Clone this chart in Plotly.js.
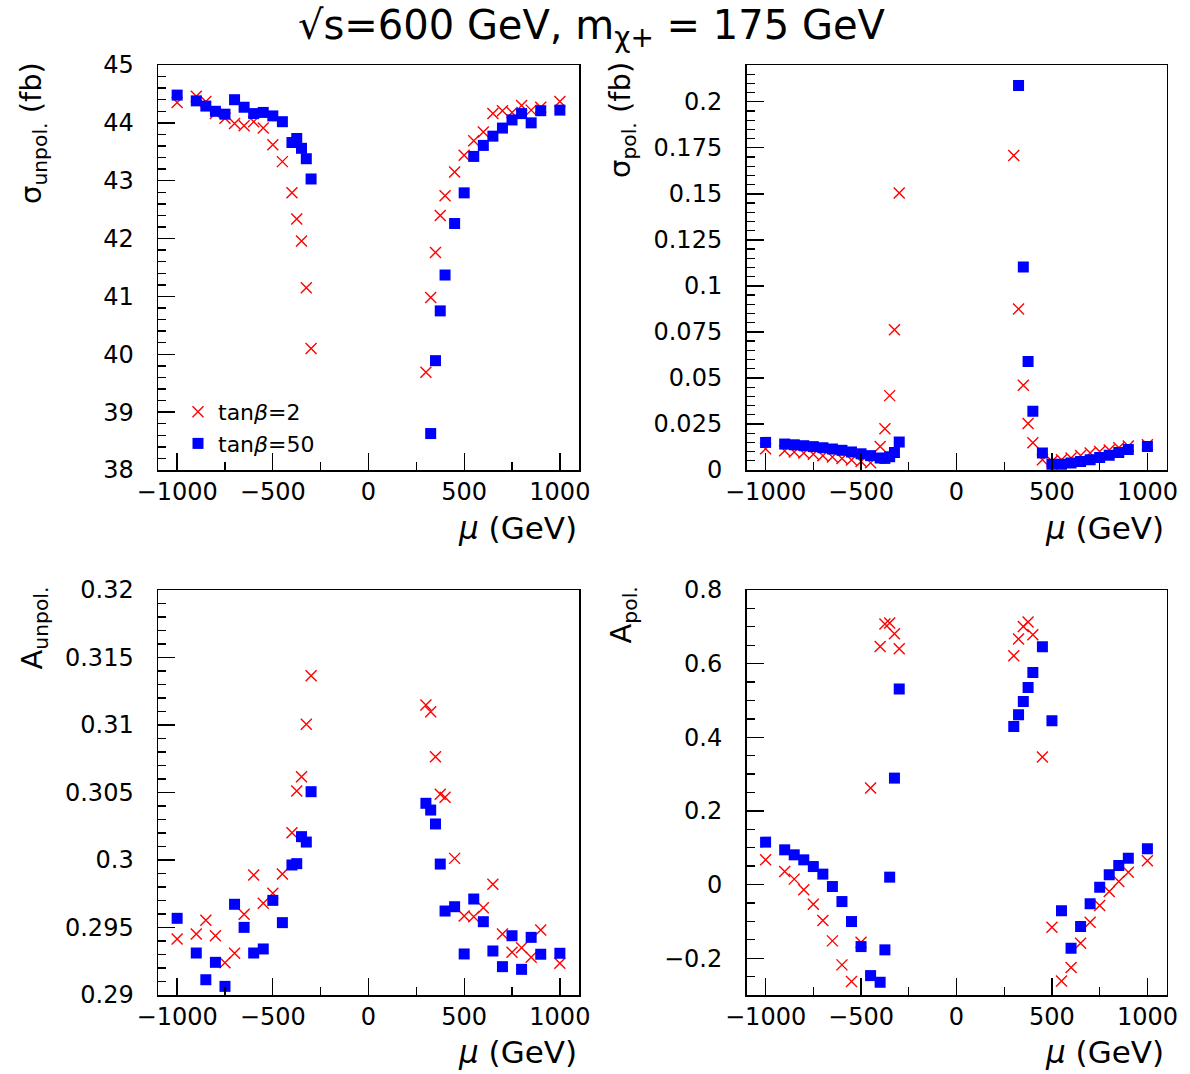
<!DOCTYPE html>
<html>
<head>
<meta charset="utf-8">
<script src="https://cdn.plot.ly/plotly-3.0.1.min.js"></script>
<style>html,body{margin:0;padding:0;background:#fff;}#chart{width:1190px;height:1074px;}</style>
</head>
<body>
<div id="chart"></div>
<script>
// ---- data ----
const muNeg = [-1000,-900,-850,-800,-750,-700,-650,-600,-550,-500,-450,-400,-375,-350,-325,-300];
const muPos = [300,325,350,375,400,450,500,550,600,650,700,750,800,850,900,1000];

// sigma unpolarised (fb)
const sigUnpolTb2Neg  = [44.35,44.46,44.37,44.16,44.08,43.99,43.95,44.02,43.91,43.62,43.33,42.79,42.34,41.96,41.15,40.10];
const sigUnpolTb2Pos  = [39.69,40.98,41.76,42.40,42.74,43.15,43.44,43.69,43.84,44.16,44.21,44.18,44.30,44.22,44.27,44.37];
const sigUnpolTb50Neg = [44.48,44.38,44.29,44.20,44.15,44.40,44.27,44.16,44.18,44.12,44.02,43.66,43.73,43.56,43.38,43.03];
const sigUnpolTb50Pos = [null,38.63,39.89,40.75,41.37,42.26,42.79,43.42,43.61,43.77,43.91,44.05,44.16,44.00,44.21,44.22];

// sigma polarised (fb)
const sigPolTb2Neg  = [0.0115,0.0105,0.0098,0.0092,0.0085,0.0078,0.0070,0.0062,0.0054,0.0046,0.0040,0.0128,0.0224,0.0404,0.0762,0.1505];
const sigPolTb2Pos  = [0.1708,0.0875,0.0460,0.0252,0.0148,0.0056,0.0047,0.0056,0.0065,0.0079,0.0092,0.0100,0.0109,0.0121,0.0130,0.0137];
const sigPolTb50Neg = [0.0150,0.0141,0.0137,0.0132,0.0127,0.0121,0.0114,0.0107,0.0098,0.0088,0.0078,0.0065,0.0063,0.0072,0.0095,0.0152];
const sigPolTb50Pos = [null,0.2089,0.1103,0.0590,0.0319,0.0092,0.0031,0.0031,0.0038,0.0046,0.0056,0.0068,0.0080,0.0095,0.0112,0.0128];

// A unpolarised
const aUnpolTb2Neg  = [0.29415,0.29452,0.29553,0.29439,0.29239,0.29309,0.29598,0.29889,0.29679,0.29753,0.29896,0.30202,0.30511,0.30617,0.31005,0.31365];
const aUnpolTb2Pos  = [0.31148,0.31099,0.30765,0.30487,0.30464,0.30012,0.29585,0.29580,0.29647,0.29820,0.29452,0.29316,0.29350,0.29279,0.29481,0.29235];
const aUnpolTb50Neg = [0.29568,0.29311,0.29113,0.29242,0.29064,0.29672,0.29501,0.29311,0.29341,0.29701,0.29536,0.29963,0.29973,0.30173,0.30133,0.30506];
const aUnpolTb50Pos = [0.30420,0.30370,0.30267,0.29970,0.29622,0.29654,0.29304,0.29711,0.29543,0.29326,0.29210,0.29439,0.29190,0.29427,0.29302,0.29309];

// A polarised
const aPolTb2Neg  = [0.0671,0.0353,0.0147,-0.0144,-0.0533,-0.0978,-0.1530,-0.2182,-0.2636,-0.1570,0.2620,0.6467,0.7076,0.7103,0.6812,0.6405];
const aPolTb2Pos  = [0.6215,0.6668,0.7011,0.7130,0.6785,0.3462,-0.1158,-0.2617,-0.2255,-0.1592,-0.1022,-0.0571,-0.0190,0.0082,0.0337,0.0644];
const aPolTb50Neg = [0.1152,0.0943,0.0807,0.0671,0.0489,0.0283,-0.0054,-0.0462,-0.1005,-0.1685,-0.2473,-0.2654,-0.1774,0.0201,0.2891,0.5310];
const aPolTb50Pos = [0.4293,0.4611,0.4973,0.5353,0.5761,0.6459,0.4448,-0.0715,-0.1728,-0.1141,-0.0524,-0.0071,0.0264,0.0516,0.0717,0.0970];

// tick labels
const sigPolTickVals = [0,0.025,0.05,0.075,0.1,0.125,0.15,0.175,0.2];
const sigPolTickText = ["0","0.025","0.05","0.075","0.1","0.125","0.15","0.175","0.2"];
const aUnpolTickVals = [0.29,0.295,0.3,0.305,0.31,0.315,0.32];
const aUnpolTickText = ["0.29","0.295","0.3","0.305","0.31","0.315","0.32"];

const seriesNames = ["tan<i>β</i>=2","tan<i>β</i>=50"];

// ---- build traces ----
const mu = muNeg.concat(muPos);
const FONT = "DejaVu Sans, Liberation Sans, sans-serif";
const redMarker = {symbol:'x-thin', size:11, color:'#ff0000', line:{color:'#ff0000', width:1.4}};
const blueMarker = {symbol:'square', size:11, color:'#0000ff', line:{width:0}};

const panels = [
  {ax:'x',  ay:'y',  r: sigUnpolTb2Neg.concat(sigUnpolTb2Pos), b: sigUnpolTb50Neg.concat(sigUnpolTb50Pos), leg:true},
  {ax:'x2', ay:'y2', r: sigPolTb2Neg.concat(sigPolTb2Pos),     b: sigPolTb50Neg.concat(sigPolTb50Pos)},
  {ax:'x3', ay:'y3', r: aUnpolTb2Neg.concat(aUnpolTb2Pos),     b: aUnpolTb50Neg.concat(aUnpolTb50Pos)},
  {ax:'x4', ay:'y4', r: aPolTb2Neg.concat(aPolTb2Pos),         b: aPolTb50Neg.concat(aPolTb50Pos)}
];
const traces = [];
panels.forEach(p => {
  traces.push({x: mu, y: p.r, xaxis: p.ax, yaxis: p.ay, type:'scatter', mode:'markers',
    marker: redMarker, name: seriesNames[0], showlegend: !!p.leg, cliponaxis: true});
  traces.push({x: mu, y: p.b, xaxis: p.ax, yaxis: p.ay, type:'scatter', mode:'markers',
    marker: blueMarker, name: seriesNames[1], showlegend: !!p.leg, cliponaxis: true});
});

// ---- layout ----
const W = 1190, H = 1074;
const px = v => v / W;
const py = v => 1 - v / H;
const xDomL = [px(158), px(579)];
const xDomR = [px(746.5), px(1166.5)];
const yDomT = [py(470), py(65)];
const yDomB = [py(995), py(590)];
const TICKSIZE = 24;

function xAxis(domain, anchor) {
  return {domain, anchor, range:[-1100,1100], tickmode:'linear', tick0:0, dtick:500,
    ticks:'inside', ticklen:17, tickwidth:1.3, tickcolor:'#000',
    minor:{ticks:'inside', ticklen:8, tickwidth:1.3, tickcolor:'#000', dtick:250, tick0:0, showgrid:false},
    showline:true, mirror:true, linecolor:'#000', linewidth:1.5,
    showgrid:false, zeroline:false, ticklabelstandoff:0,
    tickfont:{family:FONT, size:TICKSIZE, color:'#000'}};
}
function yAxis(domain, anchor, range, extra) {
  return Object.assign({domain, anchor, range,
    ticks:'inside', ticklen:17, tickwidth:1.3, tickcolor:'#000',
    showline:true, mirror:true, linecolor:'#000', linewidth:1.5,
    showgrid:false, zeroline:false, ticklabelstandoff:18,
    tickfont:{family:FONT, size:TICKSIZE, color:'#000'}}, extra);
}
const minorY = d => ({ticks:'inside', ticklen:8, tickwidth:1.3, tickcolor:'#000', dtick:d, tick0:0, showgrid:false});

const titleFont = {family:FONT, size:29, color:'#000'};
const muFont = {family:FONT, size:31, color:'#000'};
const layout = {
  width: W, height: H,
  margin:{l:0,r:0,t:0,b:0},
  paper_bgcolor:'#fff', plot_bgcolor:'#fff',
  font:{family:FONT, color:'#000'},
  title:{text:'√s=600 GeV, m<sub>χ+</sub> = 175 GeV', x:0.497, xanchor:'center', y:py(25), yanchor:'middle',
    font:{family:FONT, size:40, color:'#000'}},
  showlegend:true,
  legend:{x:px(178), y:py(391), xanchor:'left', yanchor:'top', bgcolor:'rgba(0,0,0,0)',
    font:{family:FONT, size:22, color:'#000'}, tracegroupgap:0, itemwidth:30},
  xaxis: xAxis(xDomL,'y'),
  xaxis2: xAxis(xDomR,'y2'),
  xaxis3: xAxis(xDomL,'y3'),
  xaxis4: xAxis(xDomR,'y4'),
  yaxis: yAxis(yDomT,'x',[38,45],{tickmode:'linear', tick0:38, dtick:1, minor:minorY(0.2)}),
  yaxis2: yAxis(yDomT,'x2',[0,0.22],{tickmode:'array', tickvals:sigPolTickVals, ticktext:sigPolTickText, minor:minorY(0.005)}),
  yaxis3: yAxis(yDomB,'x3',[0.29,0.32],{tickmode:'array', tickvals:aUnpolTickVals, ticktext:aUnpolTickText, minor:minorY(0.001)}),
  yaxis4: yAxis(yDomB,'x4',[-0.3,0.8],{tickmode:'linear', tick0:0, dtick:0.2, minor:minorY(0.05)}),
  annotations:[
    {text:'σ<sub>unpol.</sub> (fb)', xref:'paper', yref:'paper', x:px(33), y:py(60), xanchor:'center', yanchor:'top', textangle:-90, showarrow:false, font:titleFont},
    {text:'σ<sub>pol.</sub> (fb)', xref:'paper', yref:'paper', x:px(622), y:py(60), xanchor:'center', yanchor:'top', textangle:-90, showarrow:false, font:titleFont},
    {text:'A<sub>unpol.</sub>', xref:'paper', yref:'paper', x:px(33), y:py(585), xanchor:'center', yanchor:'top', textangle:-90, showarrow:false, font:titleFont},
    {text:'A<sub>pol.</sub>', xref:'paper', yref:'paper', x:px(622), y:py(585), xanchor:'center', yanchor:'top', textangle:-90, showarrow:false, font:titleFont},
    {text:'<i>μ</i> (GeV)', xref:'paper', yref:'paper', x:px(579), y:py(528), xanchor:'right', yanchor:'middle', showarrow:false, font:muFont},
    {text:'<i>μ</i> (GeV)', xref:'paper', yref:'paper', x:px(1166), y:py(528), xanchor:'right', yanchor:'middle', showarrow:false, font:muFont},
    {text:'<i>μ</i> (GeV)', xref:'paper', yref:'paper', x:px(579), y:py(1052), xanchor:'right', yanchor:'middle', showarrow:false, font:muFont},
    {text:'<i>μ</i> (GeV)', xref:'paper', yref:'paper', x:px(1166), y:py(1052), xanchor:'right', yanchor:'middle', showarrow:false, font:muFont}
  ]
};

Plotly.newPlot('chart', traces, layout, {staticPlot:true, displayModeBar:false});
</script>
</body>
</html>
